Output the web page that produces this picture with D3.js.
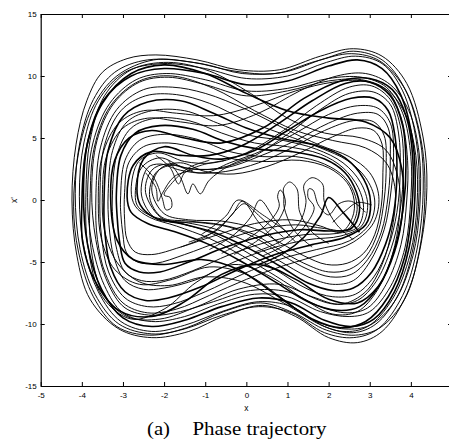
<!DOCTYPE html>
<html><head><meta charset="utf-8">
<script src="https://cdn.jsdelivr.net/npm/d3@7/dist/d3.min.js"></script>
<style>body{margin:0;background:#fff}svg{display:block}</style>
</head><body>
<svg id="c" width="449" height="441"></svg>
<script>
// ---- data ----
const xTicks = [-5,-4,-3,-2,-1,0,1,2,3,4,5];
const xTickLabels = ["-5","-4","-3","-2","-1","0","1","2","3","4",""];
const yTicks = [-15,-10,-5,0,5,10,15];
const xLabel = "x";
const yLabel = "x'";
const caption = ["(a)", "Phase trajectory"];

// big orbits around both wells
const outerLoops = [
 [[-4.24,0],[-4.14,4.5],[-3.88,8],[-3.5,10.3],[-2.9,11.4],[-2.2,11.7],[-1.2,11.3],[-0.2,10.5],[0.8,10.5],[1.8,11.6],[2.6,12.2],[3.3,11.6],[3.9,9.4],[4.3,5],[4.39,1],[4.25,-3.5],[3.9,-7.6],[3.3,-10.6],[2.7,-11.5],[2.0,-11.1],[1.2,-9.4],[0.4,-8.5],[-0.5,-9.3],[-1.4,-10.6],[-2.3,-11.1],[-3.1,-10.4],[-3.8,-8],[-4.12,-4.5]],
 [[-4.16,0.5],[-4.05,4.6],[-3.72,8.1],[-3.2,10.3],[-2.4,11.3],[-1.1,11.0],[-0.1,10.2],[0.9,10.3],[1.9,11.4],[2.6,12.0],[3.3,11.3],[3.85,9.0],[4.22,5.0],[4.3,0.8],[4.16,-3.8],[3.8,-7.7],[3.2,-10.4],[2.6,-11.1],[1.9,-10.7],[1.1,-9.1],[0.3,-8.6],[-0.6,-9.3],[-1.5,-10.4],[-2.3,-10.8],[-3.1,-10.0],[-3.68,-7.6],[-4.04,-4.0]],
 [[-4.2,-0.5],[-4.08,3.8],[-3.75,7.4],[-3.15,10.0],[-2.25,11.3],[-1.3,11.1],[-0.3,10.4],[0.7,10.2],[1.7,11.2],[2.55,11.8],[3.25,11.2],[3.88,8.8],[4.26,4.6],[4.34,0.2],[4.2,-4.2],[3.85,-8.0],[3.25,-10.3],[2.65,-10.9],[1.95,-10.5],[1.15,-9.1],[0.35,-8.3],[-0.55,-9.0],[-1.45,-10.3],[-2.35,-10.9],[-3.15,-10.2],[-3.72,-7.8],[-4.08,-4.2]],
 [[-4.06,0.3],[-3.95,4.6],[-3.6,8.0],[-2.95,10.3],[-2.05,11.0],[-1.0,10.6],[0,9.8],[1.0,10.0],[1.95,11.1],[2.65,11.6],[3.3,11.0],[3.8,8.8],[4.13,4.8],[4.2,0.6],[4.06,-3.8],[3.7,-7.6],[3.15,-10.0],[2.6,-10.7],[1.9,-10.2],[1.1,-8.6],[0.3,-8.2],[-0.6,-9.0],[-1.5,-10.1],[-2.3,-10.6],[-3.05,-9.8],[-3.6,-7.4],[-3.95,-3.8]],
 [[-3.96,0.6],[-3.85,4.8],[-3.48,8.0],[-2.8,10.0],[-2.0,10.6],[-1.0,10.2],[0,9.3],[1.0,9.6],[2.0,10.8],[2.7,11.3],[3.3,10.6],[3.75,8.5],[4.05,4.6],[4.1,0.4],[3.96,-3.8],[3.6,-7.4],[3.1,-9.6],[2.55,-10.2],[1.9,-9.7],[1.1,-8.3],[0.3,-7.9],[-0.6,-8.6],[-1.5,-9.7],[-2.3,-10.2],[-3.0,-9.5],[-3.52,-7.2],[-3.86,-3.6]],
 [[-3.86,0.2],[-3.73,4.6],[-3.32,7.8],[-2.68,9.7],[-1.95,10.2],[-1.0,9.7],[0,8.8],[1.0,9.0],[2.0,9.8],[2.8,9.9],[3.4,9.1],[3.8,7.0],[4.0,3.5],[4.0,0.2],[3.86,-3.8],[3.5,-7.0],[3.0,-9.0],[2.5,-9.4],[1.8,-9.0],[1.0,-7.8],[0.2,-7.6],[-0.7,-8.4],[-1.5,-9.4],[-2.3,-9.8],[-3.0,-9.1],[-3.45,-6.9],[-3.76,-3.4]],
 [[-3.76,0.8],[-3.63,4.8],[-3.22,7.8],[-2.6,9.5],[-1.9,9.9],[-1.0,9.3],[0,8.4],[1.0,8.8],[2.0,9.6],[2.8,9.7],[3.4,8.9],[3.75,6.8],[3.92,3.2],[3.9,0],[3.76,-3.6],[3.4,-6.8],[2.95,-8.7],[2.45,-9.1],[1.8,-8.6],[1.0,-7.4],[0.1,-7.3],[-0.8,-8.2],[-1.6,-9.0],[-2.3,-9.3],[-2.95,-8.7],[-3.38,-6.6],[-3.66,-3.2]]
];

// orbits that switch between lobes (diagonals across the middle)
const mixedLoops = [
 [[-4.0,-0.5],[-3.9,4],[-3.5,7.8],[-2.8,10.2],[-2.0,10.9],[-1.0,10.2],[0,8.6],[1.0,7.2],[2.0,6.6],[2.9,6.3],[3.5,5.0],[3.78,2.5],[3.8,-0.8],[3.6,-4.2],[3.2,-7.0],[2.7,-8.3],[2.0,-8.0],[1.2,-6.4],[0.3,-5.2],[-0.6,-6.0],[-1.5,-8.2],[-2.3,-9.4],[-3.1,-8.9],[-3.7,-6.4],[-3.98,-3.4]],
 [[-3.5,0.5],[-3.4,3.5],[-3.0,5.8],[-2.4,6.6],[-1.6,6.3],[-0.7,6.0],[0.3,7.0],[1.3,8.8],[2.2,10.0],[2.9,10.2],[3.5,9.3],[3.95,7.2],[4.2,3.8],[4.22,-0.4],[4.05,-4.5],[3.6,-8.2],[3.0,-10.1],[2.4,-10.4],[1.7,-9.8],[0.8,-8.1],[-0.1,-6.6],[-1.0,-6.2],[-1.9,-6.9],[-2.6,-6.6],[-3.15,-5.0],[-3.45,-2.4]],
 [[-3.8,0],[-3.7,4.2],[-3.3,7.6],[-2.6,9.6],[-1.8,10.0],[-0.8,9.0],[0.2,7.2],[1.2,5.6],[2.1,4.8],[2.9,4.2],[3.4,3.0],[3.62,0.8],[3.55,-2.2],[3.3,-5.2],[2.9,-7.4],[2.3,-8.4],[1.6,-7.8],[0.8,-6.8],[-0.2,-7.2],[-1.2,-8.6],[-2.1,-9.6],[-2.9,-9.4],[-3.5,-7.4],[-3.78,-3.8]],
 [[-3.3,0.3],[-3.2,3.2],[-2.85,5.0],[-2.3,5.6],[-1.5,5.0],[-0.6,4.6],[0.4,5.8],[1.4,8.2],[2.3,9.6],[3.0,9.8],[3.55,8.9],[3.9,6.6],[4.05,3.2],[4.02,-0.8],[3.85,-4.6],[3.45,-7.8],[2.9,-9.8],[2.3,-10.3],[1.6,-9.6],[0.7,-7.6],[-0.2,-5.6],[-1.1,-4.8],[-2.0,-5.2],[-2.75,-4.8],[-3.15,-3.2]],
 [[-3.9,0.6],[-3.8,4.8],[-3.45,8.4],[-2.8,10.5],[-1.9,11.1],[-0.9,10.4],[0.1,8.6],[1.0,6.6],[1.9,5.4],[2.8,5.0],[3.4,4.0],[3.7,1.6],[3.72,-1.4],[3.55,-4.4],[3.2,-7.2],[2.7,-9.0],[2.1,-9.2],[1.4,-8.0],[0.6,-6.2],[-0.3,-5.2],[-1.2,-6.6],[-2.0,-8.8],[-2.8,-9.6],[-3.5,-7.8],[-3.85,-3.8]],
 [[-3.6,-0.3],[-3.5,3.6],[-3.1,6.2],[-2.5,7.2],[-1.7,7.0],[-0.8,6.8],[0.2,7.6],[1.2,8.8],[2.1,9.5],[2.85,9.6],[3.45,8.8],[3.88,6.8],[4.12,3.6],[4.15,-0.4],[3.98,-4.4],[3.55,-8.0],[2.95,-10.2],[2.35,-10.6],[1.7,-9.9],[0.9,-8.0],[0,-6.0],[-0.9,-5.4],[-1.8,-6.4],[-2.6,-6.8],[-3.2,-5.6],[-3.52,-3.2]]
];

// orbits mostly around the left well
const leftLoops = [
 [[-3.66,0],[-3.55,4.2],[-3.15,7.3],[-2.5,8.9],[-1.8,9.1],[-1.0,8.6],[0,7.3],[0.9,5.8],[1.8,4.4],[2.5,3.5],[3.0,2.2],[3.22,0.3],[3.1,-1.8],[2.6,-3.4],[1.8,-4.4],[0.9,-5.3],[0,-6.4],[-0.9,-7.7],[-1.7,-8.8],[-2.4,-9.1],[-3.0,-8.3],[-3.42,-6.0],[-3.62,-3.2]],
 [[-3.56,0.4],[-3.45,4.4],[-3.05,7.2],[-2.45,8.4],[-1.7,8.5],[-0.9,7.8],[0,6.4],[0.9,5.3],[1.8,4.2],[2.45,3.2],[2.9,1.8],[3.12,0],[3.0,-1.9],[2.5,-3.3],[1.7,-4.0],[0.8,-4.8],[-0.1,-6.0],[-1.0,-7.4],[-1.8,-8.4],[-2.4,-8.6],[-2.95,-7.9],[-3.35,-5.8],[-3.52,-3.0]],
 [[-3.46,0],[-3.36,4.0],[-2.98,6.8],[-2.4,7.9],[-1.6,8.0],[-0.8,7.0],[0,5.8],[0.8,5.0],[1.7,4.4],[2.4,3.4],[2.85,1.7],[3.02,-0.2],[2.9,-2.0],[2.4,-3.0],[1.6,-3.6],[0.7,-4.4],[-0.2,-5.6],[-1.1,-7.0],[-1.9,-7.9],[-2.45,-8.1],[-2.95,-7.4],[-3.3,-5.4],[-3.44,-2.6]],
 [[-3.36,0.5],[-3.25,4.0],[-2.9,6.3],[-2.3,7.2],[-1.5,7.2],[-0.7,6.2],[0.1,5.2],[0.9,4.8],[1.7,4.1],[2.35,3.0],[2.78,1.4],[2.95,-0.4],[2.8,-2.1],[2.3,-2.9],[1.5,-3.2],[0.6,-3.9],[-0.3,-5.0],[-1.2,-6.4],[-2.0,-7.1],[-2.5,-7.2],[-2.95,-6.5],[-3.22,-4.6],[-3.34,-2.0]],
 [[-3.26,0],[-3.15,3.6],[-2.8,5.8],[-2.2,6.6],[-1.4,6.4],[-0.6,5.4],[0.2,4.6],[1.0,4.3],[1.8,3.7],[2.35,2.6],[2.72,1.0],[2.85,-0.6],[2.7,-2.2],[2.2,-2.7],[1.4,-2.8],[0.5,-3.4],[-0.4,-4.4],[-1.3,-5.7],[-2.05,-6.5],[-2.55,-6.5],[-2.95,-5.8],[-3.15,-4.0],[-3.24,-1.8]],
 [[-3.16,0.5],[-3.05,3.6],[-2.7,5.4],[-2.1,6.0],[-1.3,5.7],[-0.5,4.7],[0.3,4.1],[1.1,3.9],[1.9,3.3],[2.4,2.2],[2.68,0.6],[2.75,-0.9],[2.55,-2.3],[2.05,-2.5],[1.3,-2.4],[0.4,-2.9],[-0.5,-3.8],[-1.4,-5.0],[-2.1,-5.8],[-2.6,-5.8],[-2.95,-5.1],[-3.08,-3.4],[-3.14,-1.4]],
 [[-3.06,0],[-2.95,3.2],[-2.6,4.8],[-2.0,5.3],[-1.2,4.9],[-0.4,3.9],[0.4,3.5],[1.2,3.5],[1.9,2.9],[2.4,1.8],[2.65,0.3],[2.68,-1.1],[2.45,-2.4],[1.9,-2.3],[1.2,-2.0],[0.3,-2.4],[-0.6,-3.3],[-1.5,-4.4],[-2.2,-5.1],[-2.65,-5.0],[-2.92,-4.2],[-3.0,-2.8],[-3.05,-1.2]],
 [[-2.96,0.6],[-2.86,3.0],[-2.5,4.3],[-1.9,4.6],[-1.1,4.1],[-0.3,3.3],[0.5,3.1],[1.3,3.2],[2.0,2.6],[2.45,1.4],[2.62,0],[2.58,-1.4],[2.3,-2.6],[1.8,-2.1],[1.1,-1.6],[0.2,-1.9],[-0.7,-2.8],[-1.6,-3.8],[-2.3,-4.4],[-2.7,-4.2],[-2.9,-3.2],[-2.96,-1.6]]
];

// orbits mostly around the right well
const rightLoops = [
 [[-2.9,0.3],[-2.75,2.8],[-2.3,3.9],[-1.6,3.6],[-0.9,3.6],[-0.1,4.4],[0.8,6.2],[1.6,8.0],[2.4,9.4],[3.0,9.5],[3.5,8.4],[3.8,6.0],[3.88,2.8],[3.82,-0.5],[3.62,-3.8],[3.25,-6.8],[2.75,-8.6],[2.2,-8.9],[1.5,-8.2],[0.7,-6.6],[-0.1,-5.0],[-0.9,-3.6],[-1.7,-2.6],[-2.4,-1.9],[-2.8,-1.0]],
 [[-2.8,0.8],[-2.62,3.1],[-2.15,3.8],[-1.5,3.1],[-0.8,3.0],[0,3.8],[0.9,5.6],[1.7,7.6],[2.5,9.1],[3.05,9.2],[3.5,8.1],[3.76,5.7],[3.82,2.5],[3.74,-0.8],[3.52,-3.9],[3.15,-6.6],[2.7,-8.1],[2.15,-8.4],[1.5,-7.7],[0.7,-6.1],[-0.1,-4.5],[-0.9,-3.1],[-1.7,-2.1],[-2.35,-1.4],[-2.7,-0.5]],
 [[-2.7,0.2],[-2.55,2.6],[-2.1,3.4],[-1.5,2.6],[-0.8,2.5],[0.1,3.4],[1.0,5.3],[1.8,7.3],[2.5,8.6],[3.1,8.7],[3.5,7.7],[3.7,5.4],[3.74,2.2],[3.66,-1.0],[3.45,-3.8],[3.1,-6.2],[2.65,-7.6],[2.1,-7.8],[1.5,-7.2],[0.7,-5.6],[-0.1,-4.0],[-0.9,-2.6],[-1.7,-1.8],[-2.3,-1.3],[-2.62,-0.6]],
 [[-2.66,0.9],[-2.5,3.3],[-2.0,4.3],[-1.3,3.6],[-0.6,3.3],[0.2,4.0],[1.0,5.6],[1.8,7.2],[2.55,8.2],[3.1,8.2],[3.45,7.2],[3.62,5.0],[3.66,2.0],[3.58,-1.1],[3.38,-3.6],[3.05,-5.8],[2.6,-7.1],[2.1,-7.3],[1.5,-6.7],[0.8,-5.3],[0,-3.8],[-0.8,-2.6],[-1.6,-1.9],[-2.25,-1.4],[-2.58,-0.4]],
 [[-2.55,0.4],[-2.4,2.6],[-2.1,2.9],[-1.6,2.4],[-1.0,2.2],[-0.4,3.0],[0.4,4.0],[1.2,5.4],[2.0,6.9],[2.7,7.6],[3.2,7.4],[3.5,6.2],[3.58,3.8],[3.52,0.8],[3.35,-2.4],[3.0,-5.0],[2.6,-6.5],[2.1,-6.8],[1.5,-6.2],[0.8,-4.9],[0.1,-3.5],[-0.7,-2.4],[-1.5,-1.8],[-2.2,-1.5]],
 [[-2.45,0.6],[-2.3,2.4],[-1.95,2.9],[-1.3,2.5],[-0.5,2.6],[0.3,3.5],[1.2,4.8],[2.0,6.2],[2.7,7.0],[3.2,6.9],[3.45,5.8],[3.5,3.4],[3.45,0.4],[3.28,-2.6],[2.95,-4.8],[2.55,-6.0],[2.05,-6.2],[1.5,-5.6],[0.9,-4.5],[0.3,-3.2],[-0.4,-2.2],[-1.2,-1.8],[-2.0,-1.6]],
 [[-2.35,0.2],[-2.2,2.2],[-1.8,2.8],[-1.2,2.2],[-0.5,2.3],[0.3,3.0],[1.1,4.2],[1.9,5.6],[2.6,6.4],[3.1,6.3],[3.35,5.2],[3.4,2.8],[3.35,0],[3.2,-2.6],[2.9,-4.6],[2.5,-5.6],[2.0,-5.8],[1.4,-5.1],[0.8,-4.0],[0.2,-2.8],[-0.6,-2.0],[-1.4,-1.7],[-2.05,-1.4]],
 [[-2.3,0.8],[-2.1,2.5],[-1.6,3.0],[-1.0,2.3],[-0.3,2.1],[0.5,2.7],[1.3,3.8],[2.1,5.1],[2.7,5.8],[3.1,5.6],[3.3,4.5],[3.32,2.2],[3.28,-0.5],[3.12,-2.8],[2.85,-4.3],[2.45,-5.1],[1.95,-5.2],[1.4,-4.5],[0.8,-3.4],[0.2,-2.3],[-0.6,-1.7],[-1.4,-1.6],[-2.0,-1.1]]
];

// small forced loops and cusps near the two holes
const cuspPaths = [
 [[2.75,-2.6],[2.35,-1.0],[2.0,0.2],[1.8,-1.3],[1.4,-3.0],[0.9,-4.3],[0.3,-5.2]],
 [[2.9,-1.0],[2.55,-0.1],[2.25,-0.3],[2.0,-1.2],[1.75,-0.4],[1.62,0.8],[1.52,0.9],[1.5,0.2],[1.65,-0.6],[1.4,-2.2],[0.95,-3.6],[0.4,-4.5]],
 [[2.6,-3.2],[2.2,-2.0],[1.9,-0.2],[1.85,1.3],[1.6,1.8],[1.4,1.2],[1.45,-0.2],[1.3,-1.8],[0.9,-3.2],[0.2,-4.2]],
 [[2.0,-3.5],[1.6,-2.6],[1.3,-1.0],[1.23,0.9],[1.05,1.45],[0.9,0.9],[0.95,-0.3],[0.75,-1.8],[0.3,-3.2],[-0.3,-4.4]],
 [[1.6,-3.8],[1.15,-2.4],[0.92,-0.6],[0.9,0.5],[0.82,0.8],[0.76,0.3],[0.8,-0.5],[0.55,-1.8],[0.0,-3.2],[-0.6,-4.3]],
 [[1.2,-3.4],[0.7,-1.6],[0.33,0.0],[0.1,-1.4],[-0.3,-2.8],[-0.9,-4.0]],
 [[0.8,-3.6],[0.3,-1.8],[-0.1,-0.1],[-0.35,-1.2],[-0.9,-2.8],[-1.6,-3.8]],
 [[0.9,-3.0],[0.35,-1.4],[-0.05,-0.3],[-0.25,-0.8],[-0.7,-2.4],[-1.4,-3.4]],
 [[1.0,-2.6],[0.4,-1.2],[-0.2,0.0],[-0.5,-1.3],[-1.1,-2.8]],
 [[3.05,-0.4],[2.7,-0.2],[2.4,-0.9],[2.1,-1.8]],
 [[-2.6,3.0],[-2.25,1.8],[-2.05,0.2],[-1.95,-0.8],[-1.82,-0.6],[-1.85,0.2],[-2.0,0.4],[-1.8,1.4],[-1.4,2.6],[-0.9,3.2]],
 [[-1.9,3.2],[-1.6,1.8],[-1.42,0.5],[-1.3,1.3],[-1.12,0.5],[-0.9,1.6],[-0.4,2.8],[0.2,3.6]],
 [[-2.2,3.6],[-1.85,2.6],[-1.65,1.3],[-1.5,2.2],[-1.1,2.8],[-0.5,3.2]],
 [[-2.45,2.2],[-2.2,1.0],[-2.15,-0.1],[-2.05,0.5],[-1.75,1.9],[-1.3,2.4]]
];

// ---- drawing ----
const svg = d3.select("#c");
const x = d3.scaleLinear().domain([-5,5]).range([40.7,452]);
const y = d3.scaleLinear().domain([-15,15]).range([386,14]);

svg.append("defs").append("clipPath").attr("id","clip")
  .append("rect").attr("x",x(-5)).attr("y",y(15)).attr("width",x(5)-x(-5)).attr("height",y(-15)-y(15));

const g = svg.append("g").attr("clip-path","url(#clip)");
const closed = d3.line().x(d=>x(d[0])).y(d=>y(d[1])).curve(d3.curveCatmullRomClosed.alpha(0.5));
const open = d3.line().x(d=>x(d[0])).y(d=>y(d[1])).curve(d3.curveCatmullRom.alpha(0.5));

const groups = [
  {cls:"o", data:outerLoops, thick:new Set([4])},
  {cls:"m", data:mixedLoops, thick:new Set([0,3])},
  {cls:"l", data:leftLoops, thick:new Set([2,5])},
  {cls:"r", data:rightLoops, thick:new Set([0,3])}
];
groups.forEach(gr => {
  g.selectAll("path."+gr.cls).data(gr.data).join("path").attr("class",gr.cls)
    .attr("d",closed).attr("fill","none").attr("stroke","#000")
    .attr("stroke-width",(d,i)=>gr.thick.has(i)?1.6:0.95);
});
g.selectAll("path.w").data(cuspPaths).join("path").attr("class","w")
  .attr("d",open).attr("fill","none").attr("stroke","#000")
  .attr("stroke-width",(d,i)=>i===0?1.6:0.9);

const axStyle = sel => {
  sel.selectAll("text").attr("font-family","'Liberation Sans', Arial, sans-serif").attr("font-size","8px").attr("fill","#000");
  sel.selectAll("line,path").attr("stroke","#000");
};
svg.append("g").attr("transform",`translate(0,${y(-15)})`)
  .call(d3.axisBottom(x).tickValues(xTicks).tickFormat((d,i)=>xTickLabels[i]).tickSize(-4).tickSizeOuter(0).tickPadding(6)).call(axStyle);
svg.append("g").attr("transform",`translate(0,${y(15)})`)
  .call(d3.axisTop(x).tickValues(xTicks).tickFormat("").tickSize(-4).tickSizeOuter(0)).call(axStyle);
svg.append("g").attr("transform",`translate(${x(-5)},0)`)
  .call(d3.axisLeft(y).tickValues(yTicks).tickFormat(d=>String(d)).tickSize(-4).tickSizeOuter(0).tickPadding(4)).call(axStyle);
svg.append("g").attr("transform",`translate(${x(5)},0)`)
  .call(d3.axisRight(y).tickValues(yTicks).tickFormat("").tickSize(-4).tickSizeOuter(0)).call(axStyle);
svg.selectAll(".domain").attr("stroke-width",1.2);

svg.append("text").attr("x",x(0)).attr("y",411).attr("text-anchor","middle")
  .attr("font-family","'Liberation Sans', Arial, sans-serif").attr("font-size","8.5px").text(xLabel);
svg.append("text").attr("transform","translate(17,200) rotate(-90)").attr("text-anchor","middle")
  .attr("font-family","'Liberation Sans', Arial, sans-serif").attr("font-size","8.5px").text(yLabel);

svg.append("text").attr("x",147).attr("y",435)
  .attr("font-family","'Liberation Serif','Times New Roman',serif").attr("font-size","18px")
  .attr("textLength",23).attr("lengthAdjust","spacingAndGlyphs").text(caption[0]);
svg.append("text").attr("x",192.5).attr("y",435)
  .attr("font-family","'Liberation Serif','Times New Roman',serif").attr("font-size","18px")
  .attr("textLength",134).attr("lengthAdjust","spacingAndGlyphs").text(caption[1]);
</script>
</body></html>
